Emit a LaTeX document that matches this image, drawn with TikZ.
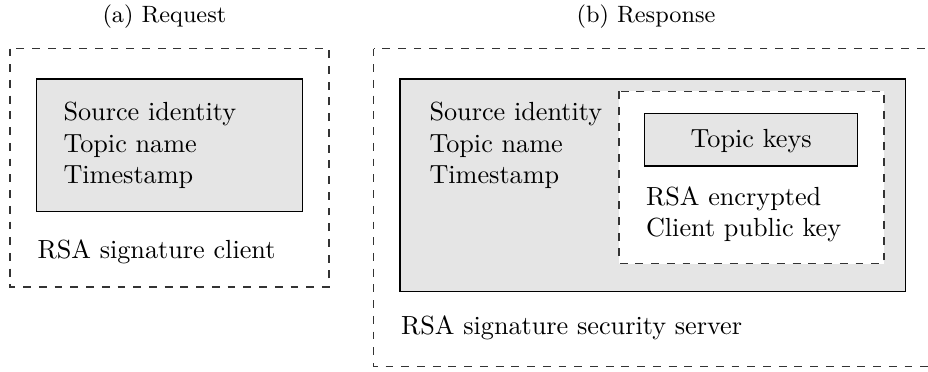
\documentclass[tikz,border=0pt]{standalone}
\begin{document}
\begin{tikzpicture}[x=0.3815pt,y=-0.3815pt,
  lbl/.style={inner sep=0pt,anchor=base west},
  ttl/.style={inner sep=0pt,anchor=base,font=\small},
  graybox/.style={draw=black,fill=black!10,line width=0.5pt},
  dbox/.style={draw=black!80,dashed,line width=0.5pt}]
\useasboundingbox (0,0) rectangle (928,371);
\clip (0,0) rectangle (928,371);
% titles
\node[ttl] (ta) at (164.4,22) {(a) Request};
\node[ttl] (tb) at (646,22) {(b) Response};
% (a)
\draw[dbox] (10,48.5) rectangle (329,287);
\draw[graybox] (36.7,79) rectangle (302.3,211.5);
\node[lbl] (a1) at (63,120.5) {Source identity};
\node[lbl] (a2) at (63,152) {Topic name};
\node[lbl] (a3) at (63,183.5) {Timestamp};
\node[lbl] (a4) at (37,258) {RSA signature client};
% (b)
\draw[dbox] (373.5,48.5) rectangle (960,366.7);
\draw[graybox] (400,79) rectangle (905.7,291.3);
\draw[dbox,fill=white] (619,91.2) rectangle (884,263.5);
\draw[graybox] (644.7,113.3) rectangle (857.6,166);
\node[ttl,font=\normalsize] (k) at (751.2,147) {Topic keys};
\node[lbl] (b1) at (429,120.5) {Source identity};
\node[lbl] (b2) at (429,152) {Topic name};
\node[lbl] (b3) at (429,183.5) {Timestamp};
\node[lbl] (b4) at (645.5,205) {RSA encrypted};
\node[lbl] (b5) at (645.5,236.5) {Client public key};
\node[lbl] (b6) at (400.5,334) {RSA signature security server};
\end{tikzpicture}
\end{document}
